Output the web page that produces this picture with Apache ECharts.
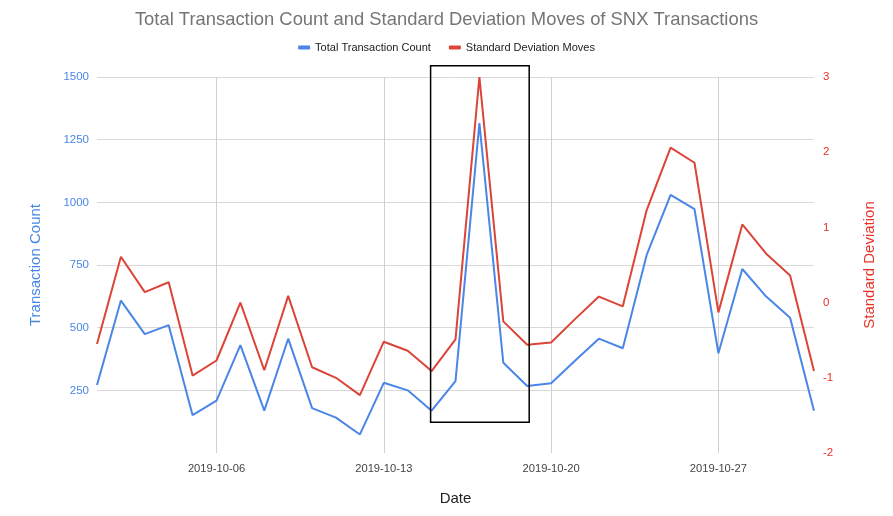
<!DOCTYPE html>
<html>
<head>
<meta charset="utf-8">
<script src="https://cdn.jsdelivr.net/npm/echarts@6/dist/echarts.min.js"></script>
<style>
  html, body { margin: 0; padding: 0; background: #fff; }
  #main { width: 893px; height: 516px; }
</style>
</head>
<body>
<div id="main"></div>
<script>
const dates = [
  "2019-10-01", "2019-10-02", "2019-10-03", "2019-10-04", "2019-10-05",
  "2019-10-06", "2019-10-07", "2019-10-08", "2019-10-09", "2019-10-10",
  "2019-10-11", "2019-10-12", "2019-10-13", "2019-10-14", "2019-10-15",
  "2019-10-16", "2019-10-17", "2019-10-18", "2019-10-19", "2019-10-20",
  "2019-10-21", "2019-10-22", "2019-10-23", "2019-10-24", "2019-10-25",
  "2019-10-26", "2019-10-27", "2019-10-28", "2019-10-29", "2019-10-30",
  "2019-10-31"
];
const txCount = [
  271, 608, 474, 510, 151, 209, 430, 169, 456, 179,
  141, 74, 280, 250, 169, 287, 1316, 360, 267, 278,
  368, 456, 418, 790, 1030, 973, 398, 734, 624, 540,
  169
];
const sdMoves = [
  -0.55, 0.61, 0.14, 0.27, -0.97, -0.77, 0.0, -0.9, 0.09, -0.86,
  -1.0, -1.23, -0.52, -0.64, -0.91, -0.49, 3.0, -0.25, -0.56, -0.53,
  -0.22, 0.08, -0.05, 1.23, 2.06, 1.86, -0.13, 1.04, 0.65, 0.36,
  -0.91
];
// highlighted window (dates and count range of the black box)
const boxDates = ["2019-10-15", "2019-10-19"];
const boxCounts = [1545, 123];

const blue = "#4a86e8";
const red = "#db4437";
const font = "Liberation Sans, Arial, sans-serif";

const chartDom = document.getElementById("main");
const myChart = echarts.init(chartDom);

const showTick = (idx) => (idx - 5) % 7 === 0;

const option = {
  animation: false,
  textStyle: { fontFamily: font },
  title: {
    text: "Total Transaction Count and Standard Deviation Moves of SNX Transactions",
    left: "center",
    top: 6,
    textStyle: { fontSize: 18.4, fontWeight: "normal", color: "#757575", fontFamily: font }
  },
  legend: {
    top: 37,
    left: "center",
    icon: "roundRect",
    itemWidth: 12,
    itemHeight: 4,
    itemGap: 18,
    textStyle: { fontSize: 11, color: "#222", fontFamily: font },
    data: ["Total Transaction Count", "Standard Deviation Moves"]
  },
  grid: { left: 97, right: 79, top: 77, bottom: 63 },
  xAxis: {
    type: "category",
    data: dates,
    boundaryGap: false,
    name: "Date",
    nameLocation: "middle",
    nameGap: 38,
    nameTextStyle: { fontSize: 15, color: "#222", fontFamily: font },
    axisLine: { show: false },
    axisTick: { show: false },
    axisLabel: { interval: showTick, fontSize: 11.2, color: "#444", margin: 10 },
    splitLine: { show: true, interval: showTick, lineStyle: { color: "#d0d0d0", width: 1 } }
  },
  yAxis: [
    {
      type: "value",
      min: 0,
      max: 1500,
      interval: 250,
      name: "Transaction Count",
      nameLocation: "middle",
      nameGap: 54,
      nameTextStyle: { fontSize: 15, color: blue, fontFamily: font },
      axisLine: { show: false },
      axisTick: { show: false },
      axisLabel: {
        fontSize: 11.5,
        color: blue,
        margin: 8,
        formatter: (v) => (v === 0 ? "" : String(v))
      },
      splitLine: {
        lineStyle: { color: ["transparent", "#d9d9d9", "#d9d9d9", "#d9d9d9", "#d9d9d9", "#d9d9d9", "#d9d9d9"], width: 1 }
      }
    },
    {
      type: "value",
      min: -2,
      max: 3,
      interval: 1,
      name: "Standard Deviation",
      nameLocation: "middle",
      nameGap: 48,
      nameTextStyle: { fontSize: 15, color: "#e8322a", fontFamily: font },
      axisLine: { show: false },
      axisTick: { show: false },
      axisLabel: { fontSize: 11.5, color: "#e8322a", margin: 9 },
      splitLine: { show: false }
    }
  ],
  series: [
    {
      name: "Total Transaction Count",
      type: "line",
      yAxisIndex: 0,
      data: txCount,
      showSymbol: false,
      symbol: "none",
      lineStyle: { color: blue, width: 2 },
      itemStyle: { color: blue },
      z: 3
    },
    {
      name: "Standard Deviation Moves",
      type: "line",
      yAxisIndex: 1,
      data: sdMoves,
      showSymbol: false,
      symbol: "none",
      lineStyle: { color: red, width: 2 },
      itemStyle: { color: red },
      z: 2
    }
  ]
};

option && myChart.setOption(option);

// black box around the spike, placed through the axes
const p1 = myChart.convertToPixel({ xAxisIndex: 0, yAxisIndex: 0 }, [boxDates[0], boxCounts[0]]);
const p2 = myChart.convertToPixel({ xAxisIndex: 0, yAxisIndex: 0 }, [boxDates[1], boxCounts[1]]);
myChart.setOption({
  graphic: [
    {
      type: "rect",
      shape: { x: p1[0] - 1, y: p1[1], width: p2[0] - p1[0] + 3, height: p2[1] - p1[1] },
      style: { fill: "none", stroke: "#000", lineWidth: 1.5 },
      z: 10
    }
  ]
});
</script>
</body>
</html>
